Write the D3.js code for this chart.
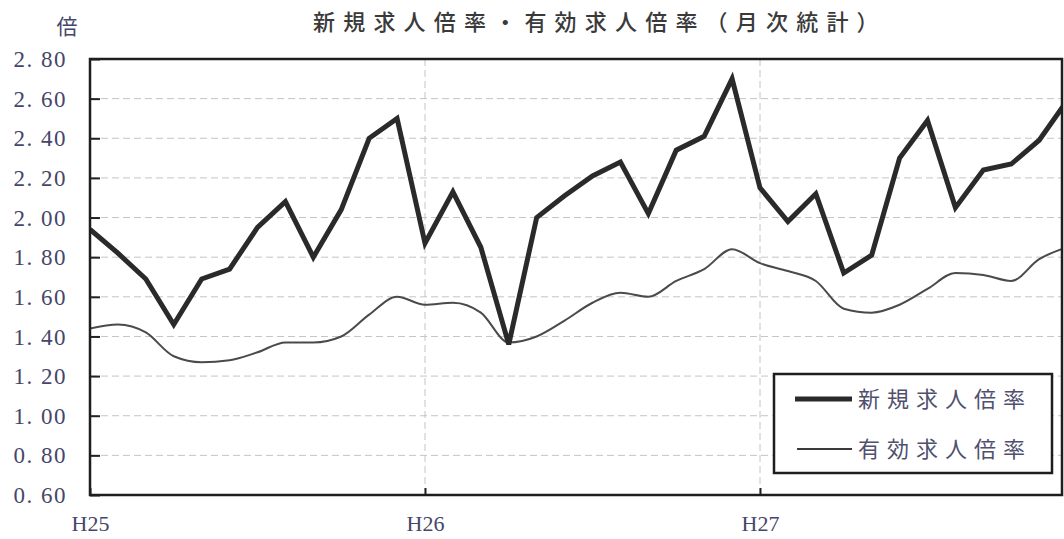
<!DOCTYPE html>
<html>
<head>
<meta charset="utf-8">
<script src="https://cdn.jsdelivr.net/npm/d3@7"></script>
<style>
  html, body { margin: 0; padding: 0; background: #fff; }
  svg { display: block; }
</style>
</head>
<body>
<svg id="chart" width="1064" height="539"></svg>
<script>
// Monthly ratios, Jan H25 onward
const newOpeningsRatio = [
  1.94, 1.82, 1.69, 1.46, 1.69, 1.74, 1.95, 2.08, 1.80, 2.04, 2.40, 2.50,
  1.87, 2.13, 1.85, 1.36, 2.00, 2.11, 2.21, 2.28, 2.02, 2.34, 2.41, 2.70,
  2.15, 1.98, 2.12, 1.72, 1.81, 2.30, 2.49, 2.05, 2.24, 2.27, 2.39, 2.59
];
const activeOpeningsRatio = [
  1.44, 1.46, 1.42, 1.30, 1.27, 1.28, 1.32, 1.37, 1.37, 1.40, 1.51, 1.60,
  1.56, 1.57, 1.52, 1.37, 1.40, 1.48, 1.57, 1.62, 1.60, 1.68, 1.74, 1.84,
  1.77, 1.73, 1.68, 1.54, 1.52, 1.56, 1.64, 1.72, 1.71, 1.68, 1.79, 1.85
];
const yearLabels = ["H25", "H26", "H27"];
const yearStartIndex = [0, 12, 24];
const yTickValues = [0.6, 0.8, 1.0, 1.2, 1.4, 1.6, 1.8, 2.0, 2.2, 2.4, 2.6, 2.8];
const seriesNames = ["新規求人倍率", "有効求人倍率"];
const titleText = "新規求人倍率・有効求人倍率（月次統計）";
const unitText = "倍";

const svg = d3.select("#chart");
const plot = { left: 90, right: 1062, top: 59, bottom: 495 };
const monthWidth = 335 / 12;
const labelColor = "#46466a";

const x = d3.scaleLinear()
  .domain([0, 12])
  .range([plot.left, plot.left + 12 * monthWidth]);
const y = d3.scaleLinear()
  .domain([0.6, 2.8])
  .range([plot.bottom, plot.top]);

// horizontal grid
svg.append("g")
  .selectAll("line")
  .data(yTickValues.filter(v => v > 0.6 && v < 2.8))
  .join("line")
  .attr("x1", plot.left).attr("x2", plot.right)
  .attr("y1", d => y(d)).attr("y2", d => y(d))
  .attr("stroke", "#c4c4c4").attr("stroke-width", 1)
  .attr("stroke-dasharray", "7,4");

// vertical grid at year boundaries
svg.append("g")
  .selectAll("line")
  .data(yearStartIndex.slice(1))
  .join("line")
  .attr("x1", d => x(d)).attr("x2", d => x(d))
  .attr("y1", plot.top).attr("y2", plot.bottom)
  .attr("stroke", "#c4c4c4").attr("stroke-width", 1)
  .attr("stroke-dasharray", "7,4");

// y axis
const yAxis = d3.axisLeft(y)
  .tickValues(yTickValues)
  .tickSizeInner(-10)
  .tickSizeOuter(0)
  .tickPadding(23)
  .tickFormat(d => d3.format(".2f")(d).replace(".", ". "));
const gy = svg.append("g")
  .attr("transform", `translate(${plot.left},0)`)
  .call(yAxis);
gy.select(".domain").remove();
gy.selectAll(".tick line").attr("stroke", "#222").attr("stroke-width", 2);
gy.selectAll(".tick text")
  .attr("fill", labelColor)
  .attr("font-family", "'Liberation Serif', serif")
  .attr("font-size", 23)
  .attr("letter-spacing", 1.5)
  .attr("dy", "0.33em");

// x axis
const xAxis = d3.axisBottom(x)
  .tickValues(yearStartIndex)
  .tickSizeInner(-7)
  .tickSizeOuter(0)
  .tickPadding(20)
  .tickFormat((d, i) => yearLabels[i]);
const gx = svg.append("g")
  .attr("transform", `translate(0,${plot.bottom})`)
  .call(xAxis);
gx.select(".domain").remove();
gx.selectAll(".tick line").attr("stroke", "#222").attr("stroke-width", 2);
gx.selectAll(".tick text")
  .attr("fill", labelColor)
  .attr("font-family", "'Liberation Serif', serif")
  .attr("font-size", 22);

// data lines, clipped to the plot frame
svg.append("clipPath").attr("id", "plotClip")
  .append("rect")
  .attr("x", plot.left).attr("y", plot.top)
  .attr("width", plot.right - plot.left).attr("height", plot.bottom - plot.top);

const lines = svg.append("g").attr("clip-path", "url(#plotClip)");

const sharpLine = d3.line()
  .x((d, i) => x(i)).y(d => y(d));
const smoothLine = d3.line()
  .x((d, i) => x(i)).y(d => y(d))
  .curve(d3.curveMonotoneX);

lines.append("path")
  .datum(activeOpeningsRatio)
  .attr("d", smoothLine)
  .attr("fill", "none")
  .attr("stroke", "#4a4a4a")
  .attr("stroke-width", 2);

lines.append("path")
  .datum(newOpeningsRatio)
  .attr("d", sharpLine)
  .attr("fill", "none")
  .attr("stroke", "#2a2a2a")
  .attr("stroke-width", 5)
  .attr("stroke-linejoin", "miter");

// plot frame
svg.append("rect")
  .attr("x", plot.left).attr("y", plot.top)
  .attr("width", plot.right - plot.left).attr("height", plot.bottom - plot.top)
  .attr("fill", "none").attr("stroke", "#1e1e1e").attr("stroke-width", 2.5);

// title and unit
svg.append("text")
  .attr("x", 313).attr("y", 30)
  .attr("font-family", "'Noto Sans CJK JP', sans-serif")
  .attr("font-size", 22)
  .attr("font-weight", 500)
  .attr("letter-spacing", 8.2)
  .attr("fill", "#3a3a3a")
  .text(titleText);

svg.append("text")
  .attr("x", 67).attr("y", 34)
  .attr("text-anchor", "middle")
  .attr("font-family", "'Noto Sans CJK JP', sans-serif")
  .attr("font-size", 21)
  .attr("fill", labelColor)
  .text(unitText);

// legend
const legend = svg.append("g");
legend.append("rect")
  .attr("x", 774).attr("y", 374).attr("width", 278).attr("height", 99)
  .attr("fill", "#fff").attr("stroke", "#1e1e1e").attr("stroke-width", 2.5);

const legendRows = [
  { name: seriesNames[0], width: 5, color: "#2a2a2a", x0: 795 },
  { name: seriesNames[1], width: 2, color: "#3a3a3a", x0: 797 }
];
const rowY = [399, 449];
legendRows.forEach((r, i) => {
  legend.append("line")
    .attr("x1", r.x0).attr("x2", 852)
    .attr("y1", rowY[i]).attr("y2", rowY[i])
    .attr("stroke", r.color).attr("stroke-width", r.width);
  legend.append("text")
    .attr("x", 858).attr("y", rowY[i])
    .attr("dy", "0.36em")
    .attr("font-family", "'Noto Sans CJK JP', sans-serif")
    .attr("font-size", 22)
    .attr("letter-spacing", 7)
    .attr("fill", "#50506e")
    .text(r.name);
});
</script>
</body>
</html>
